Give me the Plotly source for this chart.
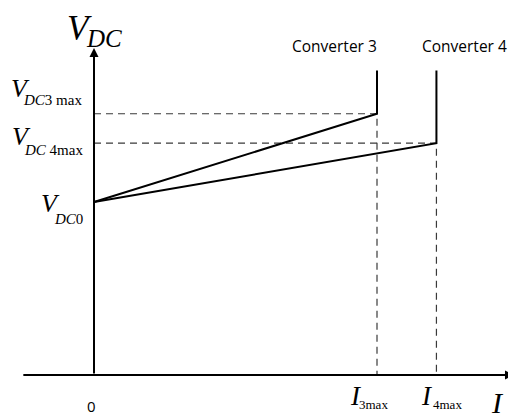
import plotly.graph_objects as go

# ---- data (normalised units) ----
I_labels = ["0", "I3max", "I4max"]
I_values = [0.0, 1.0, 1.21]          # 0, I3max, I4max
V_names = ["VDC0", "VDC3max", "VDC4max"]
V_values = [1.0, 1.51, 1.34]         # VDC0, VDC3max, VDC4max
V_top = 1.76                         # top of vertical segments
converters = ["Converter 3", "Converter 4"]

I0, I3, I4 = I_values
V0, V3, V4 = V_values

# axis extents
X_AX_MIN, X_AX_MAX = -0.255, 1.484
Y_AX_MAX = 1.89

fig = go.Figure()

black = "#000000"
dash_col = "#3a3a3a"

# dashed guides
fig.add_trace(go.Scatter(x=[I0, I3, I3], y=[V3, V3, 0], mode="lines",
                         line=dict(color=dash_col, width=1.2, dash="7px,5px"),
                         hoverinfo="skip", showlegend=False))
fig.add_trace(go.Scatter(x=[I0, I4, I4], y=[V4, V4, 0], mode="lines",
                         line=dict(color=dash_col, width=1.2, dash="7px,5px"),
                         hoverinfo="skip", showlegend=False))

# converter characteristics
fig.add_trace(go.Scatter(x=[I0, I3, I3], y=[V0, V3, V_top], mode="lines",
                         line=dict(color=black, width=2), name=converters[0],
                         showlegend=False))
fig.add_trace(go.Scatter(x=[I0, I4, I4], y=[V0, V4, V_top], mode="lines",
                         line=dict(color=black, width=2), name=converters[1],
                         showlegend=False))

anns = []
# axes with arrows
anns.append(dict(x=X_AX_MAX, y=0, ax=X_AX_MIN, ay=0, xref="x", yref="y",
                 axref="x", ayref="y", showarrow=True, arrowhead=2,
                 arrowsize=0.9, arrowwidth=2, arrowcolor=black, text=""))
anns.append(dict(x=0, y=Y_AX_MAX, ax=0, ay=0, xref="x", yref="y",
                 axref="x", ayref="y", showarrow=True, arrowhead=2,
                 arrowsize=0.9, arrowwidth=2, arrowcolor=black, text=""))

serif = "Liberation Serif"
sans = "Open Sans"


def lab(text, x, y, dx, dy, size, family=serif, anchor="center"):
    anns.append(dict(x=x, y=y, xref="x", yref="y", text=text, showarrow=False,
                     xshift=dx, yshift=dy, xanchor=anchor, yanchor="middle",
                     borderpad=0,
                     font=dict(family=family, size=size, color=black)))


# axis titles
lab("<i>V</i>", 0, Y_AX_MAX, -15, 20, 35)
lab("<i>DC</i>", 0, Y_AX_MAX, 10, 10, 25)
lab("<i>I</i>", X_AX_MAX, 0, -16, -27, 30)

# V labels on y axis
lab("<i>V</i>", 0, V3, -74, 25, 26)
lab("<i>DC</i>3 max", 0, V3, -72, 14, 15, anchor="left")
lab("<i>V</i>", 0, V4, -73, 7, 26)
lab("<i>DC</i> 4max", 0, V4, -71, -7, 15, anchor="left")
lab("<i>V</i>", 0, V0, -44, -1, 26)
lab("<i>DC</i>0", 0, V0, -41, -17, 15, anchor="left")

# I labels on x axis
lab("0", I0, 0, -3, -31, 15, family=sans)
lab("<i>I</i>", I3, 0, -21, -21, 27)
lab("3max", I3, 0, -19, -29, 13, anchor="left")
lab("<i>I</i>", I4, 0, -9, -21, 27)
lab("4max", I4, 0, -4, -29, 13, anchor="left")

# converter names
lab(converters[0], I3, V_top, -43, 25, 15.5, family=sans)
lab(converters[1], I4, V_top, 28, 25, 15.5, family=sans)

# page body has an 8px margin: shift the view so the drawing lands in place
fig.update_layout(
    width=508, height=412,
    margin=dict(l=0, r=0, t=0, b=0),
    paper_bgcolor="white", plot_bgcolor="white",
    xaxis=dict(range=[(8 - 94) / 283, (516 - 94) / 283], visible=False,
               fixedrange=True),
    yaxis=dict(range=[-45 / 173, (375 - 8) / 173], visible=False,
               fixedrange=True),
    annotations=anns,
)

fig.write_html("out.html")
